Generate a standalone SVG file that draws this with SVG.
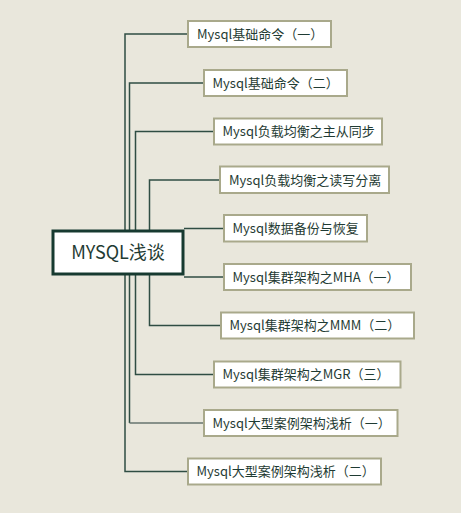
<svg xmlns="http://www.w3.org/2000/svg" width="461" height="513" viewBox="0 0 461 513">
<style>
.bg{fill:#e9e7dc}
.box rect{fill:#ffffff;stroke:#a9a98b;stroke-width:2}
.box text{font-family:"Microsoft YaHei","Noto Sans CJK SC","Noto Sans",sans-serif;font-size:13px;fill:#1f3b33}
.root rect{fill:#ffffff;stroke:#173a30;stroke-width:3}
.root text{font-family:"Microsoft YaHei","Noto Sans CJK SC","Noto Sans",sans-serif;font-size:18px;fill:#1f3b33;text-anchor:middle}
.conn path{fill:none;stroke:#2f4d43;stroke-width:1.5}
.conn path.g{stroke:#66756f}
</style>
<rect class="bg" x="0" y="0" width="461" height="513"/>
<g id="connectors" class="conn">
<path d="M187,34 H125 V471.5 H187"/>
<path d="M203,83 H129.5 V423"/>
<path class="g" d="M129.5,423 H203"/>
<path d="M213,131.5 H135.5 V374.5 H213"/>
<path d="M219,180 H149.5 V231"/>
<path d="M149.5,274 V325.5 H220"/>
<path d="M184,228.5 H223"/>
<path d="M184,277 H223"/>
</g>
<g id="root" class="root">
<rect x="53" y="231" width="130" height="43"/>
<text x="118" y="258.5">MYSQL浅谈</text>
</g>
<g id="n1" class="box"><rect x="188" y="21" width="143" height="26"/><text x="197" y="38.5">Mysql基础命令（一）</text></g>
<g id="n2" class="box"><rect x="204" y="70" width="143" height="26"/><text x="212.5" y="87.5">Mysql基础命令（二）</text></g>
<g id="n3" class="box"><rect x="214" y="118.5" width="168" height="26"/><text x="222.5" y="136">Mysql负载均衡之主从同步</text></g>
<g id="n4" class="box"><rect x="220" y="166.5" width="169" height="26.5"/><text x="229" y="184.5">Mysql负载均衡之读写分离</text></g>
<g id="n5" class="box"><rect x="224" y="215" width="143" height="26.5"/><text x="232.5" y="233">Mysql数据备份与恢复</text></g>
<g id="n6" class="box"><rect x="224" y="264" width="187" height="26"/><text x="232.5" y="281.5">Mysql集群架构之MHA（一）</text></g>
<g id="n7" class="box"><rect x="221" y="312.5" width="193" height="26"/><text x="229.5" y="330">Mysql集群架构之MMM（二）</text></g>
<g id="n8" class="box"><rect x="214" y="361.5" width="186.5" height="26"/><text x="222.5" y="379">Mysql集群架构之MGR（三）</text></g>
<g id="n9" class="box"><rect x="204" y="410" width="193.5" height="26"/><text x="212.5" y="427.5">Mysql大型案例架构浅析（一）</text></g>
<g id="n10" class="box"><rect x="188" y="458.5" width="193" height="26"/><text x="196.5" y="476">Mysql大型案例架构浅析（二）</text></g>
</svg>
